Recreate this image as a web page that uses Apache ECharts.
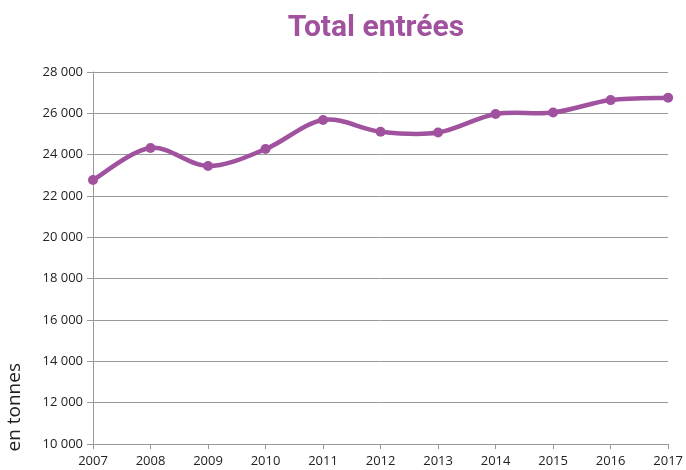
<!DOCTYPE html>
<html><head><meta charset="utf-8">
<script src="https://cdn.jsdelivr.net/npm/echarts@6/dist/echarts.min.js"></script>
<style>html,body{margin:0;padding:0;background:#fff}#c{width:686px;height:470px}</style>
</head><body><div id="c"></div>
<script>
const years = ['2007','2008','2009','2010','2011','2012','2013','2014','2015','2016','2017'];
const totalEntrees = [22770, 24320, 23450, 24270, 25680, 25110, 25070, 25970, 26040, 26640, 26750];
const yTicks = [10000, 12000, 14000, 16000, 18000, 20000, 22000, 24000, 26000, 28000];

const purple = '#A0529F';
const chart = echarts.init(document.getElementById('c'));

// Excel-like smoothed curve (Catmull-Rom), positions computed via the chart's own scales
function renderSegment(params, api) {
  const i = params.dataIndex;
  const n = totalEntrees.length;
  if (i >= n - 1) return null;
  const P = k => api.coord([Math.max(0, Math.min(n - 1, k)), totalEntrees[Math.max(0, Math.min(n - 1, k))]]);
  const p0 = P(i - 1), p1 = P(i), p2 = P(i + 1), p3 = P(i + 2);
  const t = 1 / 6;
  return {
    type: 'bezierCurve',
    shape: {
      x1: p1[0], y1: p1[1], x2: p2[0], y2: p2[1],
      cpx1: p1[0] + (p2[0] - p0[0]) * t, cpy1: p1[1] + (p2[1] - p0[1]) * t,
      cpx2: p2[0] - (p3[0] - p1[0]) * t, cpy2: p2[1] - (p3[1] - p1[1]) * t
    },
    style: { stroke: purple, lineWidth: 4.5, fill: null, lineCap: 'round' }
  };
}

chart.setOption({
  animation: false,
  title: {
    text: 'Total entrées', left: 371, textAlign: 'center', top: 8,
    textStyle: { fontFamily: 'Roboto', fontWeight: 'bold', fontSize: 30, color: purple }
  },
  grid: { left: 93, right: 16, top: 72, bottom: 26 },
  graphic: [{
    type: 'text', left: 5, top: 363, rotation: Math.PI / 2,
    style: { text: 'en tonnes', fontFamily: 'Open Sans', fontSize: 19, fill: '#222' }
  }],
  xAxis: {
    type: 'category', data: years, boundaryGap: false,
    axisLine: { lineStyle: { color: '#999', width: 1 } },
    axisTick: { show: true, length: 5, lineStyle: { color: '#999' } },
    axisLabel: { fontFamily: 'Open Sans', fontSize: 13, color: '#222', margin: 11 }
  },
  yAxis: {
    type: 'value', min: yTicks[0], max: yTicks[yTicks.length - 1], interval: 2000,
    axisLine: { show: true, lineStyle: { color: '#999', width: 1 } },
    axisTick: { show: true, length: 6, lineStyle: { color: '#999' } },
    splitLine: { lineStyle: { color: '#999', width: 1 } },
    axisLabel: {
      fontFamily: 'Open Sans', fontSize: 13, color: '#222', margin: 10,
      formatter: v => String(v).replace(/\B(?=(\d{3})+(?!\d))/g, ' ')
    }
  },
  series: [{
    type: 'custom', renderItem: renderSegment,
    data: totalEntrees.map((v, i) => [i, v]),
    encode: { x: 0, y: 1 }, clip: false, z: 2
  }, {
    type: 'line', data: totalEntrees,
    symbol: 'circle', symbolSize: 10,
    lineStyle: { width: 0, opacity: 0 },
    itemStyle: { color: purple }, z: 3
  }]
});
</script></body></html>
